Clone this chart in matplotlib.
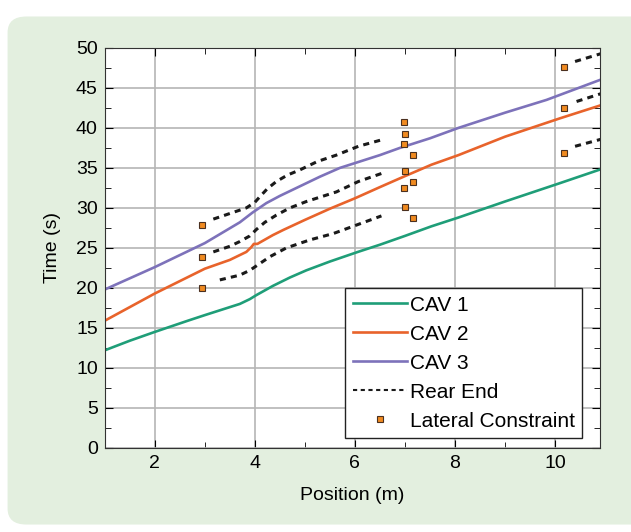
import matplotlib
matplotlib.use('Agg')
from matplotlib import pyplot as plt
from matplotlib.patches import FancyBboxPatch

plt.rcParams['font.family'] = ['Liberation Sans', 'DejaVu Sans']

# trajectories of the three vehicles (position m, time s)
cav1_x = [1.0, 1.5, 2.0, 2.66, 3.0, 3.4, 3.7, 3.9, 4.03, 4.36, 4.7, 5.03, 5.5, 6.06, 6.5, 7.0, 7.53, 8.07, 9.0, 10.1, 10.9]
cav1_t = [12.2, 13.4, 14.5, 15.9, 16.6, 17.4, 18.0, 18.6, 19.1, 20.25, 21.3, 22.2, 23.3, 24.5, 25.4, 26.5, 27.7, 28.8, 30.8, 33.1, 34.8]

cav2_x = [1.0, 2.0, 3.0, 3.5, 3.83, 3.93, 3.98, 4.05, 4.36, 4.57, 5.0, 5.5, 6.0, 6.5, 6.9, 7.53, 8.07, 9.0, 10.1, 10.9]
cav2_t = [15.9, 19.3, 22.4, 23.5, 24.5, 25.1, 25.5, 25.5, 26.6, 27.25, 28.5, 29.9, 31.2, 32.6, 33.7, 35.4, 36.6, 38.9, 41.2, 42.8]

cav3_x = [1.0, 2.0, 3.0, 3.7, 3.95, 4.23, 4.5, 4.9, 5.3, 5.7, 6.1, 6.5, 6.9, 7.5, 8.07, 9.0, 9.83, 10.9]
cav3_t = [19.8, 22.6, 25.6, 28.2, 29.4, 30.6, 31.5, 32.7, 33.9, 35.0, 35.8, 36.6, 37.5, 38.7, 40.0, 41.9, 43.5, 46.0]

# rear-end constraint segments
rear_segs = [
    ([3.17, 3.5, 3.83, 4.0, 4.1, 4.25, 4.43, 4.65, 4.9, 5.25, 5.63, 6.07, 6.53],
     [28.6, 29.3, 30.0, 30.7, 31.4, 32.4, 33.3, 34.1, 34.75, 35.8, 36.6, 37.7, 38.5]),
    ([3.17, 3.5, 3.7, 3.9, 4.03, 4.2, 4.43, 4.7, 5.03, 5.63, 6.07, 6.53],
     [24.5, 25.2, 25.8, 26.5, 27.3, 28.2, 29.1, 30.0, 30.8, 32.0, 33.3, 34.3]),
    ([3.3, 3.7, 3.9, 4.03, 4.3, 4.63, 5.1, 5.57, 6.05, 6.53],
     [21.0, 21.6, 22.2, 22.75, 23.9, 25.0, 26.0, 26.8, 27.9, 29.0]),
    ([10.4, 10.93], [48.3, 49.3]),
    ([10.43, 10.93], [43.3, 44.3]),
    ([10.4, 10.93], [37.7, 38.6]),
]

# lateral constraint points
lat_x = [2.95, 2.95, 2.95, 6.98, 7.0, 6.98, 7.16, 7.0, 7.16, 6.98, 7.0, 7.16, 10.18, 10.18, 10.18]
lat_t = [27.9, 23.9, 20.0, 40.7, 39.2, 38.0, 36.6, 34.6, 33.2, 32.5, 30.1, 28.8, 47.6, 42.5, 36.9]

fig = plt.figure(figsize=(6.31, 5.32), dpi=100)
bg = FancyBboxPatch((0.012, 0.014), 1.1, 0.955, boxstyle='round,pad=0,rounding_size=0.03',
                    transform=fig.transFigure, facecolor='#e3efdf', edgecolor='none', zorder=-10)
fig.patches.append(bg)

ax = fig.add_axes([0.166, 0.158, 0.785, 0.752])
ax.set_facecolor('white')

ax.plot(cav1_x, cav1_t, color='#1f9e78', lw=1.9, label='CAV 1')
ax.plot(cav2_x, cav2_t, color='#e8632b', lw=1.9, label='CAV 2')
ax.plot(cav3_x, cav3_t, color='#7d72ba', lw=1.9, label='CAV 3')
for i, (sx, st) in enumerate(rear_segs):
    ax.plot(sx, st, color='#1a1a1a', lw=2.2, dashes=(2.0, 1.7),
            label='Rear End' if i == 0 else None)
ax.plot(lat_x, lat_t, 's', ms=4, mfc='#f08a20', mec='#4a3020', mew=0.8, ls='none',
        label='Lateral Constraint')

ax.set_xlim(1, 10.9)
ax.set_ylim(0, 50)
ax.set_xticks([2, 4, 6, 8, 10])
ax.set_xticks([3, 5, 7, 9], minor=True)
ax.set_yticks(range(0, 51, 5))
ax.set_yticks([x + 2.5 for x in range(0, 50, 5)], minor=True)
ax.grid(True, which='major', color='#b5b5b5', lw=1.2)
ax.set_axisbelow(True)
ax.tick_params(axis='both', which='both', direction='in', top=True, right=True, labelsize=14)
ax.tick_params(which='major', length=6, pad=5)
ax.tick_params(which='minor', length=4)
for s in ax.spines.values():
    s.set_color('#333333')

ax.set_xlabel('Position (m)', fontsize=14, labelpad=11)
ax.set_ylabel('Time (s)', fontsize=14, labelpad=11)

leg = ax.legend(loc='lower right', bbox_to_anchor=(0.964, 0.025), fontsize=15, frameon=True,
                fancybox=False, edgecolor='#222222', framealpha=1, handlelength=2.6,
                handletextpad=0.15, labelspacing=0.48, borderpad=0.35, borderaxespad=0)
leg.get_frame().set_linewidth(1.0)
for h in leg.get_lines()[3:4]:
    h.set_linewidth(1.5)

fig.savefig('out.png', dpi=100)
